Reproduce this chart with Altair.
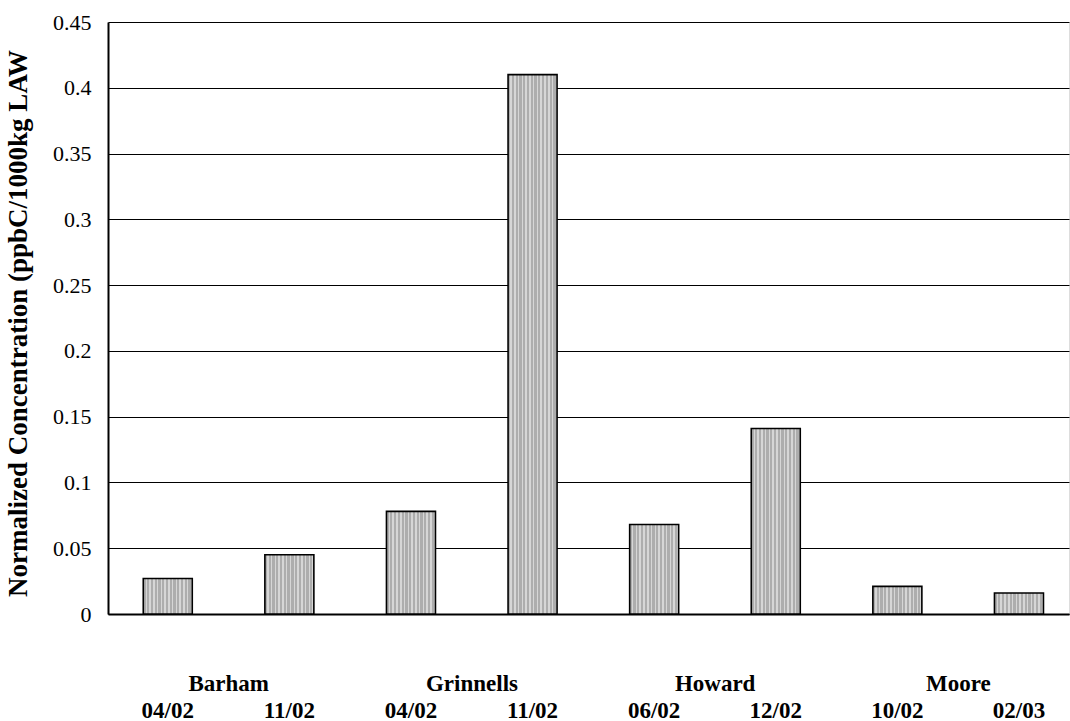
import altair as alt
import pandas as pd

groups = ["Barham", "Barham", "Grinnells", "Grinnells", "Howard", "Howard", "Moore", "Moore"]
dates = ["04/02", "11/02", "04/02", "11/02", "06/02", "12/02", "10/02", "02/03"]
values = [0.027, 0.045, 0.078, 0.410, 0.068, 0.141, 0.021, 0.016]
group_names = ["Barham", "Grinnells", "Howard", "Moore"]

keys = [f"{g}|{d}" for g, d in zip(groups, dates)]
df = pd.DataFrame({"key": keys, "value": values})
first_keys = [keys[i * 2] for i in range(len(group_names))]
gdf = pd.DataFrame({"key": first_keys, "name": group_names})

W, H = 961, 592
FONT = "Liberation Serif"

# striped fill imitating the dotted texture
n_stripes = 13
stops = []
for i in range(n_stripes):
    a = i / n_stripes
    b = (i + 0.6) / n_stripes
    c = (i + 1) / n_stripes
    stops += [alt.GradientStop(offset=a, color="#adadad"),
              alt.GradientStop(offset=b, color="#adadad"),
              alt.GradientStop(offset=b, color="#d6d6d6"),
              alt.GradientStop(offset=c, color="#d6d6d6")]
fill = alt.LinearGradient(gradient="linear", stops=stops, x1=0, x2=1, y1=0, y2=0)

xscale = alt.Scale(domain=keys, paddingInner=0.597, paddingOuter=0.25, align=0.58)

bars = alt.Chart(df).mark_bar(
    color=fill, stroke="black", strokeWidth=1.6
).encode(
    x=alt.X("key:N", scale=xscale, sort=keys,
            axis=alt.Axis(title=None, labelExpr="split(datum.label, '|')[1]",
                          labelAngle=0, labelFont=FONT, labelFontSize=23,
                          labelFontWeight="bold", labelColor="black",
                          labelPadding=103, labelBaseline="alphabetic",
                          ticks=False, domainColor="black", domainWidth=2)),
    y=alt.Y("value:Q", scale=alt.Scale(domain=[0, 0.45], nice=False),
            axis=alt.Axis(title="Normalized Concentration (ppbC/1000kg LAW",
                          values=[0, 0.05, 0.1, 0.15, 0.2, 0.25, 0.3, 0.35, 0.4, 0.45],
                          labelFont=FONT, labelFontSize=22, labelColor="black",
                          labelPadding=17, ticks=False,
                          labelExpr="datum.value == 0 ? '0' : format(datum.value, '')",
                          grid=True, gridColor="black", gridWidth=1,
                          domainColor="black", domainWidth=2,
                          titleFont=FONT, titleFontSize=27, titleFontWeight="bold",
                          titleColor="black", titleX=-76, titleY=301,
                          titleAngle=270, titleAlign="center", titleBaseline="bottom")),
)

glabels = alt.Chart(gdf).mark_text(
    font=FONT, fontSize=23, fontWeight="bold", color="black",
    dx=61, baseline="alphabetic", align="center"
).encode(
    x=alt.X("key:N", scale=xscale, sort=keys),
    y=alt.value(H + 77),
    text="name:N",
)

chart = alt.layer(bars, glabels).properties(
    width=W, height=H,
    autosize=alt.AutoSizeParams(type="none"),
    padding={"left": 108, "top": 22, "right": 1, "bottom": 107},
).configure_view(stroke=None).configure(background="white")

chart.save("out.html", embed_options={"renderer": "svg", "actions": False})
